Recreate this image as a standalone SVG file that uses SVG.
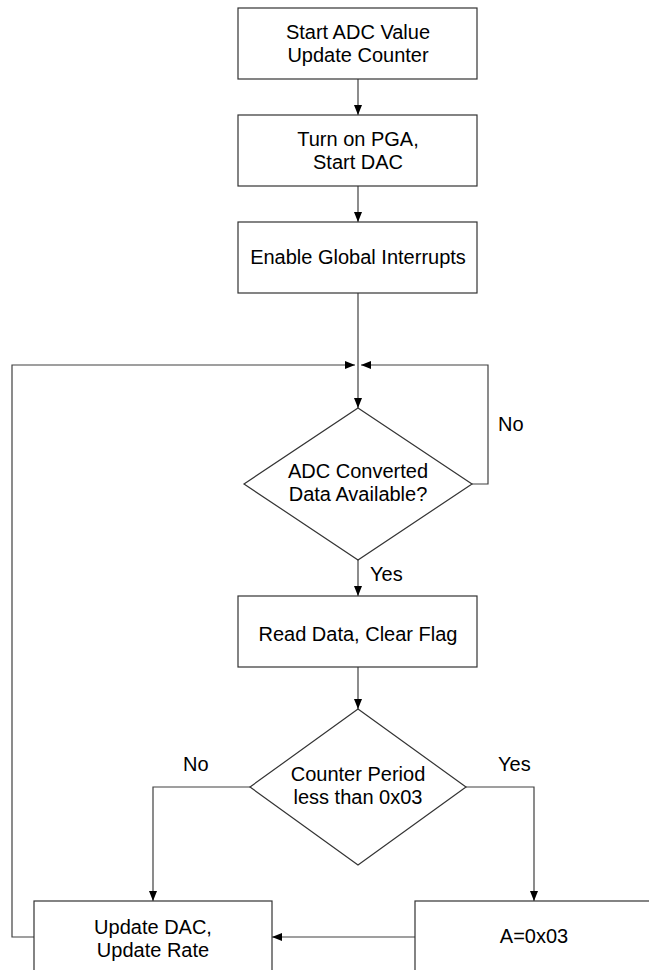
<svg xmlns="http://www.w3.org/2000/svg" width="649" height="970" viewBox="0 0 649 970">
<defs>
<style>
.n{fill:#fff;stroke:#333;stroke-width:1.2}
.t{font-family:"Liberation Sans",Arial,sans-serif;font-size:20px;fill:#000;text-anchor:middle}
.l{font-family:"Liberation Sans",Arial,sans-serif;font-size:20px;fill:#000}
.c{fill:none;stroke:#404040;stroke-width:1.2}
</style>
<marker id="ah" markerUnits="userSpaceOnUse" markerWidth="10" markerHeight="10" viewBox="0 0 10 10" refX="10" refY="5" orient="auto">
<path d="M0,1 L10,5 L0,9 Z" fill="#000"/>
</marker>
</defs>
<rect width="649" height="970" fill="#fff"/>
<g id="connectors">
<path class="c" d="M358,79 V115" marker-end="url(#ah)"/>
<path class="c" d="M358,186 V222" marker-end="url(#ah)"/>
<path class="c" d="M358,293 V408" marker-end="url(#ah)"/>
<path class="c" d="M472,484 H488 V365 H361" marker-end="url(#ah)"/>
<path class="c" d="M358,560 V596" marker-end="url(#ah)"/>
<path class="c" d="M358,667 V709" marker-end="url(#ah)"/>
<path class="c" d="M250,787 H153 V901" marker-end="url(#ah)"/>
<path class="c" d="M466,787 H534 V901" marker-end="url(#ah)"/>
<path class="c" d="M415,937 H272" marker-end="url(#ah)"/>
<path class="c" d="M34,937 H12 V365 H355" marker-end="url(#ah)"/>
<text class="l" x="498" y="431">No</text>
<text class="l" x="370" y="581">Yes</text>
<text class="l" x="183" y="771">No</text>
<text class="l" x="498" y="771">Yes</text>
</g>
<g id="start">
<rect class="n" x="238" y="8" width="239" height="71"/>
<text class="t" x="358" y="39">Start ADC Value</text>
<text class="t" x="358" y="62">Update Counter</text>
</g>
<g id="pga">
<rect class="n" x="238" y="115" width="239" height="71"/>
<text class="t" x="358" y="146">Turn on PGA,</text>
<text class="t" x="358" y="169">Start DAC</text>
</g>
<g id="interrupts">
<rect class="n" x="238" y="222" width="239" height="71"/>
<text class="t" x="358" y="264">Enable Global Interrupts</text>
</g>
<g id="adcReady">
<polygon class="n" points="358,408 472,484 358,560 244,484"/>
<text class="t" x="358" y="478">ADC Converted</text>
<text class="t" x="358" y="501">Data Available?</text>
</g>
<g id="readData">
<rect class="n" x="238" y="596" width="239" height="71"/>
<text class="t" x="358" y="641">Read Data, Clear Flag</text>
</g>
<g id="counterCheck">
<polygon class="n" points="358,709 466,787 358,865 250,787"/>
<text class="t" x="358" y="781">Counter Period</text>
<text class="t" x="358" y="804">less than 0x03</text>
</g>
<g id="updateDac">
<rect class="n" x="34" y="901" width="238" height="72"/>
<text class="t" x="153" y="934">Update DAC,</text>
<text class="t" x="153" y="957">Update Rate</text>
</g>
<g id="setA">
<rect class="n" x="415" y="901" width="240" height="72"/>
<text class="t" x="534" y="943">A=0x03</text>
</g>
</svg>
